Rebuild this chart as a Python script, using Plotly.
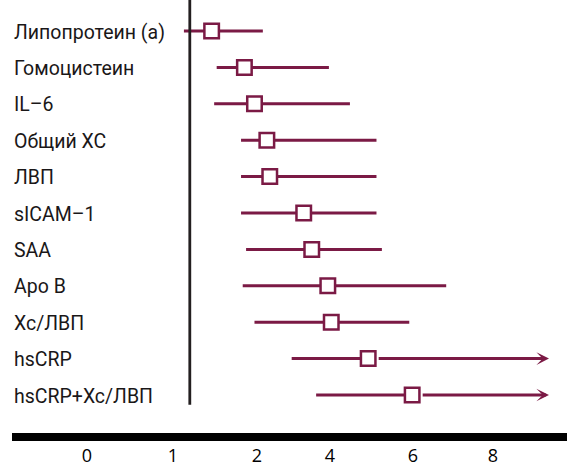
import numpy as np
import plotly.graph_objects as go

# Biomarkers, top to bottom
markers = ["Липопротеин (a)", "Гомоцистеин", "IL–6", "Общий ХС", "ЛВП", "sICAM–1",
           "SAA", "Apo B", "Хс/ЛВП", "hsCRP", "hsCRP+Хс/ЛВП"]

# Relative risk: point estimate and interval bounds (None = open-ended interval)
estimate = [1.46, 1.85, 1.97, 2.27, 2.35, 3.28, 3.50, 3.94, 4.03, 4.92, 5.98]
lower = [1.13, 1.52, 1.49, 1.81, 1.81, 1.81, 1.87, 1.83, 1.97, 2.95, 3.62]
upper = [2.16, 3.97, 4.48, 5.12, 5.12, 5.12, 5.25, 6.83, 5.91, None, None]
open_end = 9.4          # where open-ended intervals are cut with an arrow
reference_value = 1.2   # vertical reference line

# Axis tick labels (non-uniform scale)
tick_values = [0, 1, 2, 4, 6, 8]
tick_text = ["0", "1", "2", "4", "6", "8"]

# ---- layout constants ----
W, H = 567, 467
ML, MB = 12, 34
tick_pos = [87, 173, 257, 330, 413, 493]   # axis positions of the tick labels
row0, row_step = 31, 36.4                  # first row centre and row spacing
plot_h = H - MB
MAROON = "#7b1a45"
DARK = "#231f20"


def to_axis(v):
    """Piecewise-linear value scale, extended past the last tick."""
    v = np.asarray(v, dtype=float)
    pos = np.interp(v, tick_values, tick_pos)
    slope = (tick_pos[-1] - tick_pos[-2]) / (tick_values[-1] - tick_values[-2])
    return np.where(v > tick_values[-1], tick_pos[-1] + (v - tick_values[-1]) * slope, pos)


n = len(markers)
idx = list(range(n))

fig = go.Figure()

# interval lines (closed intervals fully, open ones up to the estimate)
lx, ly = [], []
for i in idx:
    hi = upper[i] if upper[i] is not None else estimate[i]
    lx += [float(to_axis(lower[i])), float(to_axis(hi)), None]
    ly += [i, i, None]
fig.add_trace(go.Scatter(x=lx, y=ly, mode="lines",
                         line=dict(color=MAROON, width=3),
                         hoverinfo="skip", showlegend=False))

# point estimates
fig.add_trace(go.Scatter(x=to_axis(estimate), y=idx, mode="markers",
                         marker=dict(symbol="square", size=14.5, color="white",
                                     line=dict(color=MAROON, width=2.5)),
                         showlegend=False))

annotations = []
# arrows for open-ended intervals
for i in idx:
    if upper[i] is None:
        annotations.append(dict(
            x=float(to_axis(open_end)), y=i, xref="x", yref="y",
            ax=float(to_axis(estimate[i])), ay=i, axref="x", ayref="y",
            text="", showarrow=True, arrowhead=3, arrowsize=0.7,
            arrowwidth=3, arrowcolor=MAROON, startstandoff=9, standoff=0))

# row labels
for i, name in enumerate(markers):
    annotations.append(dict(
        x=0, y=i, xref="paper", yref="y", xanchor="left", yanchor="middle",
        text=name, showarrow=False, yshift=-1,
        font=dict(family="Roboto, sans-serif", size=19.5, color="#1a1718")))

y_top = -row0 / row_step
y_bottom = (plot_h - row0) / row_step

# reference line
fig.add_shape(type="line", xref="x", yref="y",
              x0=float(to_axis(reference_value)), x1=float(to_axis(reference_value)),
              y0=y_top, y1=n - 1 + 0.27,
              line=dict(color=DARK, width=2.8), layer="above")

fig.update_layout(
    width=W, height=H,
    margin=dict(l=ML, r=0, t=0, b=MB, pad=0, autoexpand=False),
    paper_bgcolor="white", plot_bgcolor="white",
    showlegend=False,
    annotations=annotations,
    xaxis=dict(range=[ML, W], showgrid=False, zeroline=False, automargin=False,
               showline=True, linewidth=8, linecolor="black",
               tickvals=to_axis(tick_values), ticktext=tick_text, ticks="",
               ticklabelstandoff=-1,
               tickfont=dict(family="Open Sans, sans-serif", size=18, color="black"),
               fixedrange=True),
    yaxis=dict(range=[y_bottom, y_top], showgrid=False, zeroline=False, automargin=False,
               showticklabels=False, showline=False, fixedrange=True),
)

fig.write_html("out.html")
